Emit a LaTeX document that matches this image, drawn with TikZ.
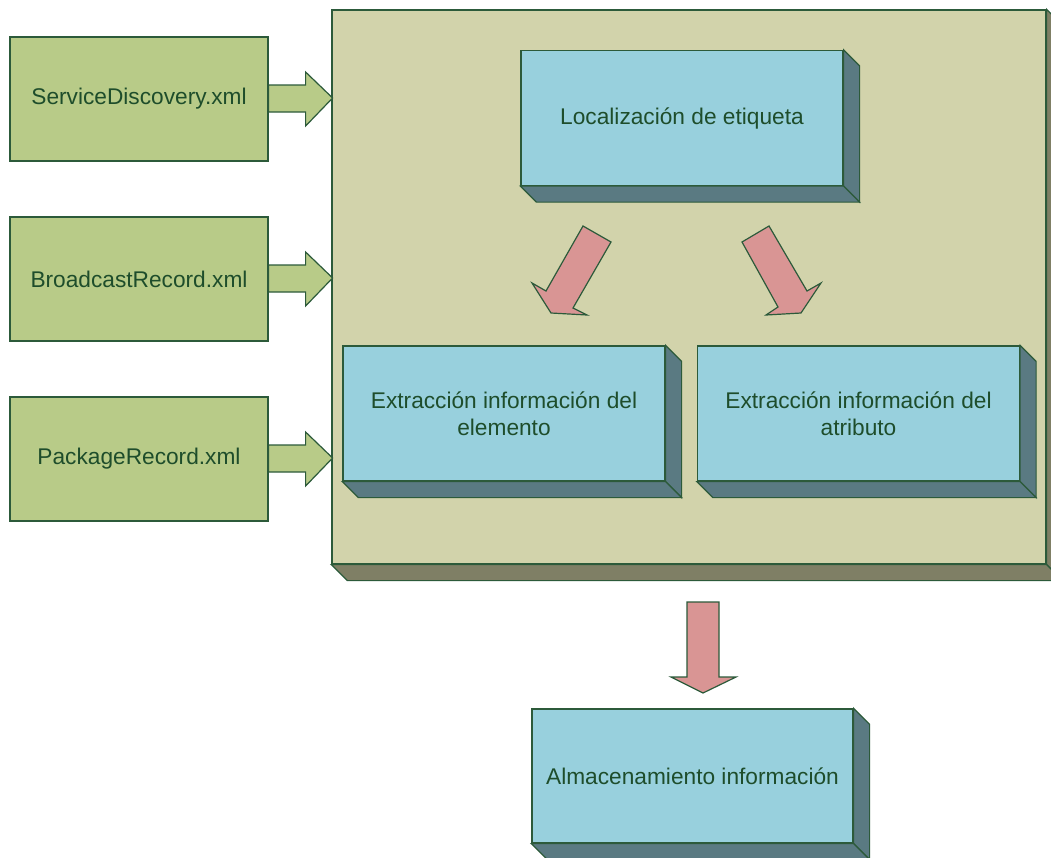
\documentclass[tikz,border=0pt]{standalone}
\usepackage{fontspec}
\setmainfont{Liberation Sans}
\usetikzlibrary{calc}

\definecolor{edge}{HTML}{2C5A3A}
\definecolor{ink}{HTML}{1E4D2B}
\definecolor{srcfill}{HTML}{B8CB88}
\definecolor{panelfront}{HTML}{D2D3AB}
\definecolor{paneldepth}{HTML}{7F7F65}
\definecolor{blockfront}{HTML}{98D0DD}
\definecolor{blockdepth}{HTML}{5A7A82}
\definecolor{flowfill}{HTML}{D99594}

\tikzset{
  every node/.style={font=\fontsize{22.7}{27}\selectfont, text=ink},
  outline/.style={draw=edge, line width=1.2pt, line join=miter},
  srcbox/.style={outline, fill=srcfill, minimum width=258pt, minimum height=124pt, inner sep=0pt},
  panel/.style={outline, fill=panelfront, minimum width=714pt, minimum height=554pt, inner sep=0pt},
  block/.style={outline, fill=blockfront, minimum width=322pt, minimum height=135pt, inner sep=0pt, align=center},
  srcarrow/.style={outline, fill=srcfill},
  flowarrow/.style={outline, fill=flowfill},
}

% depth faces of a raised box: right side and bottom, offset down-right
\newcommand{\boxdepth}[3]{%
  \draw[outline, fill=#2] (#1.north east) -- ++(#3,#3) -- ($(#1.south east)+(#3,#3)$) -- (#1.south east) -- cycle;
  \draw[outline, fill=#2] (#1.south west) -- (#1.south east) -- ++(#3,#3) -- ($(#1.south west)+(#3,#3)$) -- cycle;
}
% block arrow leaving the east side of a source box
\newcommand{\srcarrowfrom}[1]{%
  \draw[srcarrow, shift={(#1.east)}] (0,-14) -- (37,-14) -- (37,-27) -- (64,-1) -- (37,27) -- (37,13) -- (0,13) -- cycle;
}

\begin{document}
\begin{tikzpicture}[x=1pt, y=-1pt]
  \clip (0,0) rectangle (1051,857);
  \fill[white] (0,0) rectangle (1051,857);

  % processing panel
  \node[panel] (panel) at (689,287) {};
  \boxdepth{panel}{paneldepth}{16}

  % source files
  \node[srcbox] (sd) at (139,99) {ServiceDiscovery.xml};
  \node[srcbox] (br) at (139,279) {BroadcastRecord.xml};
  \node[srcbox] (pr) at (139,459) {PackageRecord.xml};
  \srcarrowfrom{sd}
  \srcarrowfrom{br}
  \srcarrowfrom{pr}

  % processing steps
  \node[block] (loc) at (682,118) {Localización de etiqueta};
  \boxdepth{loc}{blockdepth}{16}
  \node[block] (elem) at (504,413.5) {Extracción información del\\elemento};
  \boxdepth{elem}{blockdepth}{16}
  \node[block] (attr) at (858.5,413.5) {Extracción información del\\atributo};
  \boxdepth{attr}{blockdepth}{16}

  % storage
  \node[block, minimum width=321pt, minimum height=134pt] (store) at (692.5,776) {Almacenamiento información};
  \boxdepth{store}{blockdepth}{16}

  % flow arrows
  \draw[flowarrow] (583,226) -- (611,242) -- (573,308) -- (587,315) -- (551,313) -- (532,283) -- (546,291) -- cycle;
  \draw[flowarrow] (742,242) -- (769,226) -- (807,291) -- (821,283) -- (801,313) -- (766,315) -- (778,307) -- cycle;
  \draw[flowarrow] (687,602) -- (719,602) -- (719,677) -- (736,677) -- (703,693) -- (671,677) -- (687,677) -- cycle;
\end{tikzpicture}
\end{document}
